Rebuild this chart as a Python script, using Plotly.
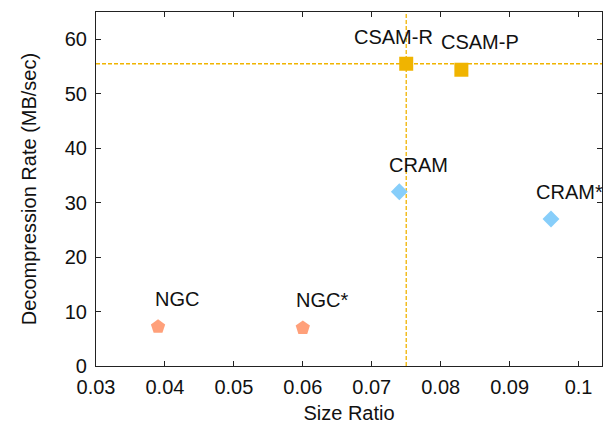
import plotly.graph_objects as go

# ---- data ----
names = ["NGC", "NGC*", "CRAM", "CRAM*", "CSAM-R", "CSAM-P"]
size_ratio = [0.039, 0.060, 0.074, 0.096, 0.075, 0.083]
decomp_rate = [7.2, 7.0, 32.0, 27.0, 55.5, 54.4]
groups = ["NGC", "NGC", "CRAM", "CRAM", "CSAM", "CSAM"]

x_ticks = [0.03, 0.04, 0.05, 0.06, 0.07, 0.08, 0.09, 0.1]
x_tick_labels = ["0.03", "0.04", "0.05", "0.06", "0.07", "0.08", "0.09", "0.1"]
y_ticks = [0, 10, 20, 30, 40, 50, 60]
y_tick_labels = ["0", "10", "20", "30", "40", "50", "60"]

# ---- styles ----
group_style = {
    "NGC": dict(color="#ffa07a", symbol="pentagon", size=15),
    "CRAM": dict(color="#87cefa", symbol="diamond", size=13),
    "CSAM": dict(color="#f0b400", symbol="square", size=14),
}
# label offsets in pixels (dx, dy up)
label_offsets = {
    "NGC": (19, 28), "NGC*": (19, 28), "CRAM": (19, 27),
    "CRAM*": (19, 27), "CSAM-R": (-13, 27), "CSAM-P": (19, 28),
}
FONT = "Liberation Sans, Arial, sans-serif"
FS = 20

fig = go.Figure()
for g in ["NGC", "CRAM", "CSAM"]:
    idx = [i for i, gg in enumerate(groups) if gg == g]
    st = group_style[g]
    fig.add_trace(go.Scatter(
        x=[size_ratio[i] for i in idx],
        y=[decomp_rate[i] for i in idx],
        mode="markers",
        marker=dict(color=st["color"], symbol=st["symbol"], size=st["size"],
                    line=dict(width=0)),
        showlegend=False,
        cliponaxis=False,
    ))

for i, n in enumerate(names):
    dx, dy = label_offsets[n]
    fig.add_annotation(x=size_ratio[i], y=decomp_rate[i], text=n,
                       showarrow=False, xshift=dx, yshift=dy,
                       font=dict(family=FONT, size=FS, color="#111111"))

# reference dashed lines through CSAM-R
ri = names.index("CSAM-R")
fig.add_shape(type="line", xref="x", yref="paper", x0=size_ratio[ri], x1=size_ratio[ri],
              y0=0, y1=1, line=dict(color="#f0b400", width=1.3, dash="4px,2px"), layer="below")
fig.add_shape(type="line", xref="paper", yref="y", x0=0, x1=1,
              y0=decomp_rate[ri], y1=decomp_rate[ri],
              line=dict(color="#f0b400", width=1.3, dash="4px,2px"), layer="below")

axis_common = dict(
    showline=True, linecolor="#222222", linewidth=1.2, mirror="ticks",
    ticks="inside", ticklen=5, tickcolor="#222222", tickwidth=1,
    showgrid=False, zeroline=False,
    tickfont=dict(family=FONT, size=FS, color="#111111"),
)
fig.update_xaxes(range=[0.03, 0.1034], tickvals=x_ticks, ticktext=x_tick_labels,
                 ticklabelstandoff=3,
                 title=dict(text="Size Ratio", font=dict(family=FONT, size=FS, color="#111111"),
                            standoff=8),
                 **axis_common)
fig.update_yaxes(range=[0, 65], tickvals=y_ticks, ticktext=y_tick_labels,
                 ticklabelstandoff=4,
                 title=dict(text="Decompression Rate (MB/sec)",
                            font=dict(family=FONT, size=FS, color="#111111"), standoff=22),
                 **axis_common)

fig.update_layout(
    width=603, height=428,
    margin=dict(l=96, r=1, t=12, b=62, autoexpand=False),
    plot_bgcolor="white", paper_bgcolor="white",
)
fig.write_html("out.html", config={"displayModeBar": False},
               post_script="document.body.style.margin='0';")
